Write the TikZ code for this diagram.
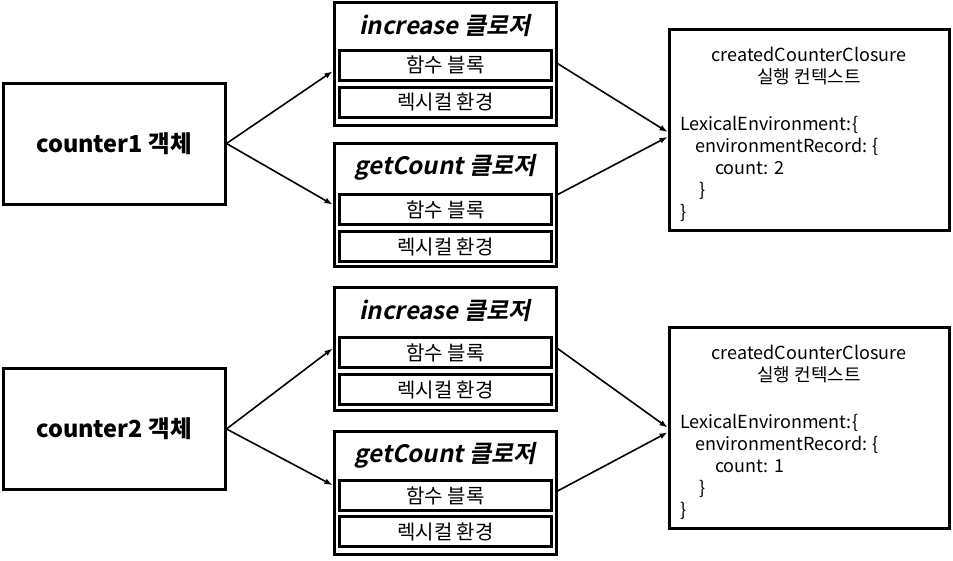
\documentclass[tikz,border=0pt]{standalone}
\usepackage{fontspec}
\setmainfont{Noto Sans CJK KR}[ItalicFont={Noto Sans CJK KR},ItalicFeatures={FakeSlant=0.2},
  BoldItalicFont={Noto Sans CJK KR Bold},BoldItalicFeatures={FakeSlant=0.2}]
\usetikzlibrary{arrows.meta}
\tikzset{
  objbox/.style={draw,line width=3pt,minimum width=222pt,minimum height=121pt,inner sep=0pt,font=\bfseries\fontsize{23.5}{27}\selectfont},
  closurebox/.style={draw,line width=3pt,minimum width=222pt,minimum height=123pt,inner sep=0pt},
  partbox/.style={draw,line width=3pt,minimum width=212pt,minimum height=30pt,inner sep=0pt,font=\fontsize{20}{22}\selectfont},
  closuretitle/.style={anchor=base,inner sep=0pt,font=\bfseries\itshape\fontsize{24}{28}\selectfont},
  ctxbox/.style={draw,line width=3pt,minimum width=280pt,minimum height=201pt,inner sep=0pt},
  ctxtext/.style={inner sep=0pt,font=\fontsize{18}{22}\selectfont},
  link/.style={line width=1.6pt,-{Latex[length=8pt,width=6pt]}}
}
\begin{document}
\begin{tikzpicture}[x=1pt,y=-1pt]
    \useasboundingbox (0,0) rectangle (953,560);
    % upper object
    \node[objbox] (counter1) at (114,143.5) {counter1 객체};
    \node[closurebox] (inc1) at (445,63.5) {};
    \node[closuretitle] (inctitle1) at (445,34) {increase 클로저};
    \node[partbox] (incfn1) at (445.5,65) {함수 블록};
    \node[partbox] (inclex1) at (445.5,102) {렉시컬 환경};
    \node[closurebox] (get1) at (445,204.5) {};
    \node[closuretitle] (gettitle1) at (445,174) {getCount 클로저};
    \node[partbox] (getfn1) at (445.5,209.5) {함수 블록};
    \node[partbox] (getlex1) at (445.5,246.5) {렉시컬 환경};
    \node[ctxbox] (ctx1) at (809,129.5) {};
    % base = last line
    \node[ctxtext,align=center,anchor=base] (ctxhead1) at (809,83) {createdCounterClosure\\실행 컨텍스트};
    \node[ctxtext,align=left,anchor=base west] (ctxbody1) at (680,218) {LexicalEnvironment:\{\\
        \hspace*{15pt}environmentRecord: \{\\
        \hspace*{35pt}count: 2\\
        \hspace*{19pt}\}\\
        \}};
    \draw[link] (counter1.east) -- (inc1.184);
    \draw[link] (counter1.east) -- (get1.west);
    \draw[link] (inc1.east) -- (ctx1.181);
    \draw[link] (get1.5) -- (ctx1.183);
    % lower object
    \node[objbox] (counter2) at (114,429) {counter2 객체};
    \node[closurebox] (inc2) at (445,348.5) {};
    \node[closuretitle] (inctitle2) at (445,319) {increase 클로저};
    \node[partbox] (incfn2) at (445.5,352.5) {함수 블록};
    \node[partbox] (inclex2) at (445.5,389.5) {렉시컬 환경};
    \node[closurebox] (get2) at (445,493) {};
    \node[closuretitle] (gettitle2) at (445,462) {getCount 클로저};
    \node[partbox] (getfn2) at (445.5,495.5) {함수 블록};
    \node[partbox] (getlex2) at (445.5,531.5) {렉시컬 환경};
    \node[ctxbox] (ctx2) at (809,427.5) {};
    \node[ctxtext,align=center,anchor=base] (ctxhead2) at (809,381) {createdCounterClosure\\실행 컨텍스트};
    \node[ctxtext,align=left,anchor=base west] (ctxbody2) at (680,516) {LexicalEnvironment:\{\\
        \hspace*{15pt}environmentRecord: \{\\
        \hspace*{35pt}count: 1\\
        \hspace*{19pt}\}\\
        \}};
    \draw[link] (counter2.east) -- (inc2.west);
    \draw[link] (counter2.east) -- (get2.176);
    \draw[link] (inc2.east) -- (ctx2.west);
    \draw[link] (get2.1.5) -- (ctx2.182);
\end{tikzpicture}
\end{document}
